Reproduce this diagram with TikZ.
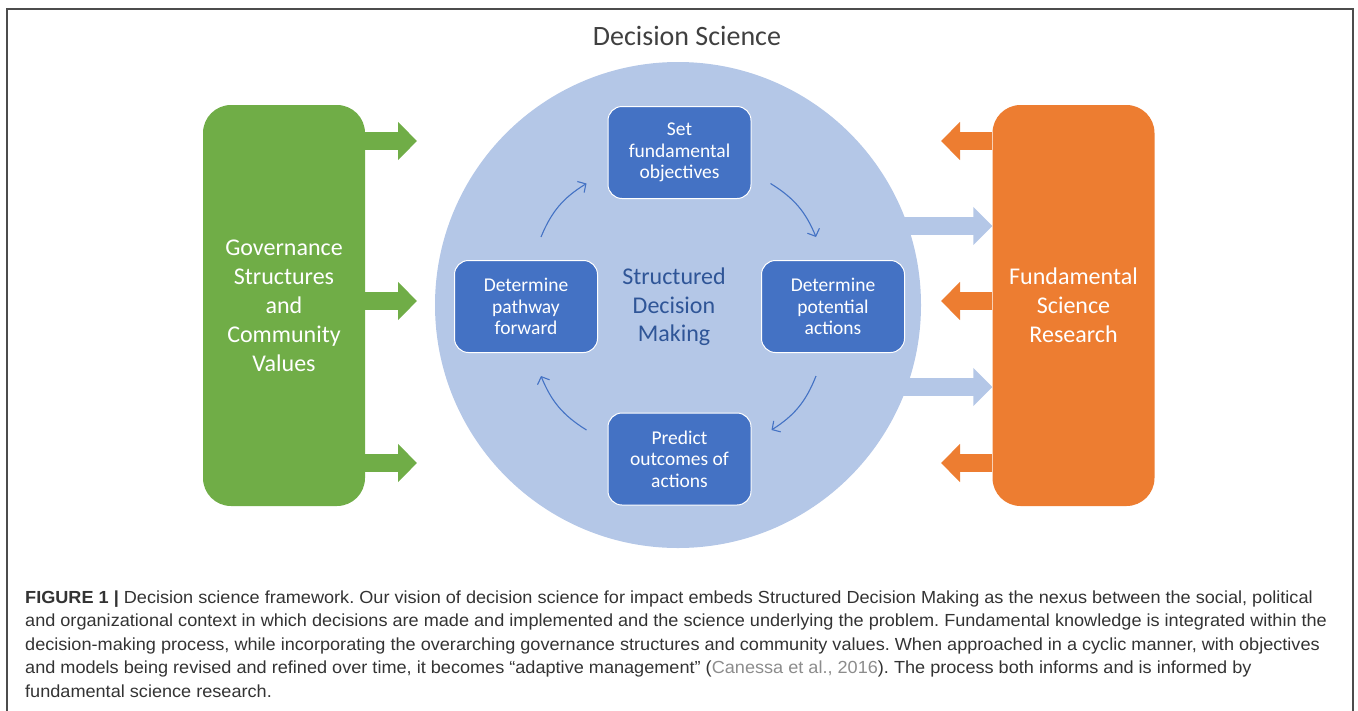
\documentclass[tikz,border=0pt]{standalone}
\usepackage{fontspec}
\setmainfont{Carlito}
\newfontfamily\capfont[FakeStretch=1.035]{Liberation Sans}
\usetikzlibrary{arrows.meta}
\usetikzlibrary{positioning}
\definecolor{govgreen}{HTML}{70AD47}
\definecolor{sciorange}{HTML}{ED7D31}
\definecolor{sdmlight}{HTML}{B4C7E7}
\definecolor{sdmblue}{HTML}{4472C4}
\definecolor{sdmtext}{HTML}{2F5597}
\definecolor{titlegray}{HTML}{404040}
\definecolor{citegray}{HTML}{8C8C8C}
\definecolor{captext}{HTML}{333333}
\frenchspacing

\tikzset{
  sidebox/.style={rounded corners=28pt, minimum width=162pt, minimum height=401pt,
    text=white, font=\fontsize{24}{29}\selectfont, align=center, inner sep=0pt},
  stepbox/.style={fill=sdmblue, draw=white, line width=1pt, rounded corners=14pt,
    minimum width=143pt, minimum height=92pt, text=white,
    font=\fontsize{19.5}{21.5}\selectfont, align=center, inner sep=0pt},
  fatarrow/.style={line width=18pt, -{Triangle[length=19pt,width=37pt]}},
  cycarrow/.style={draw=sdmblue, line width=1.1pt, -{Straight Barb[length=6pt,width=13pt]}},
}

\begin{document}
\begin{tikzpicture}[x=1pt,y=-1pt]
    \useasboundingbox (0,0) rectangle (1358,710);
    % Frame
    \draw[line width=1.2pt,black!70] (7,715) -- (7,9) -- (1353,9) -- (1353,715);
    \node[text=titlegray, font=\fontsize{28}{32}\selectfont] (title) at (687,36) {Decision Science};
    % Circle
    \node[circle, fill=sdmlight, minimum size=486pt, inner sep=0pt] (sdm) at (678,305) {};
    \node[text=sdmtext, font=\fontsize{24}{28.5}\selectfont, align=center] (sdmlabel)
      at (674,307) {Structured\\Decision\\Making};
    % Side boxes
    \node[sidebox, fill=govgreen] (gov) at (284,305.5)
      {Governance\\Structures\\and\\Community\\Values};
    \node[sidebox, fill=sciorange] (sci) at (1073.5,305.5)
      {Fundamental\\Science\\Research};
    % Green arrows
    \coordinate (g1) at (417,141);
    \coordinate (g2) at (417,301);
    \coordinate (g3) at (417,463);
    \foreach \c in {g1,g2,g3}
      \draw[fatarrow, draw=govgreen, fill=govgreen] (gov.east |- \c) -- (\c);
    % Orange arrows
    \coordinate (o1) at (941,141);
    \coordinate (o2) at (941,301);
    \coordinate (o3) at (941,463);
    \foreach \c in {o1,o2,o3}
      \draw[fatarrow, draw=sciorange, fill=sciorange] (sci.west |- \c) -- (\c);
    % Light blue arrows
    \coordinate (b1) at (870,226);
    \coordinate (b2) at (870,387);
    \foreach \c in {b1,b2}
      \draw[fatarrow, draw=sdmlight, fill=sdmlight] (\c) -- (sci.west |- \c);
    % Steps
    \node[stepbox] (set) at (679.5,152.5) {Set\\fundamental\\objectives};
    \node[stepbox] (pot) at (833,306.5) {Determine\\potential\\actions};
    \node[stepbox] (pred) at (679.5,459) {Predict\\outcomes of\\actions};
    \node[stepbox] (path) at (526,306.5) {Determine\\pathway\\forward};
    % Cycle
    \draw[cycarrow] ([xshift=15pt,yshift=23pt]path.north) to[bend left=18] ([xshift=-21pt,yshift=-31pt]set.west);
    \draw[cycarrow] ([xshift=19pt,yshift=-31pt]set.east) to[bend left=18] ([xshift=-17pt,yshift=23pt]pot.north);
    \draw[cycarrow] ([xshift=-17pt,yshift=-23pt]pot.south) to[bend left=18] ([xshift=20pt,yshift=29pt]pred.east);
    \draw[cycarrow] ([xshift=-21pt,yshift=29pt]pred.west) to[bend left=18] ([xshift=15pt,yshift=-23pt]path.south);
    % Caption
    \node[anchor=north west, text=captext, align=left, inner sep=0pt,
      font=\capfont\fontsize{17.5}{23.5}\selectfont] (cap) at (25,590.5)
      {\textbf{FIGURE 1 |} Decision science framework. Our vision of decision science for impact embeds Structured Decision Making as the nexus between the social, political\\
       and organizational context in which decisions are made and implemented and the science underlying the problem. Fundamental knowledge is integrated within the\\
       decision-making process, while incorporating the overarching governance structures and community values. When approached in a cyclic manner, with objectives\\
       and models being revised and refined over time, it becomes “adaptive management” ({\color{citegray}Canessa et al., 2016}). The process both informs and is informed by\\
       fundamental science research.};
\end{tikzpicture}
\end{document}
